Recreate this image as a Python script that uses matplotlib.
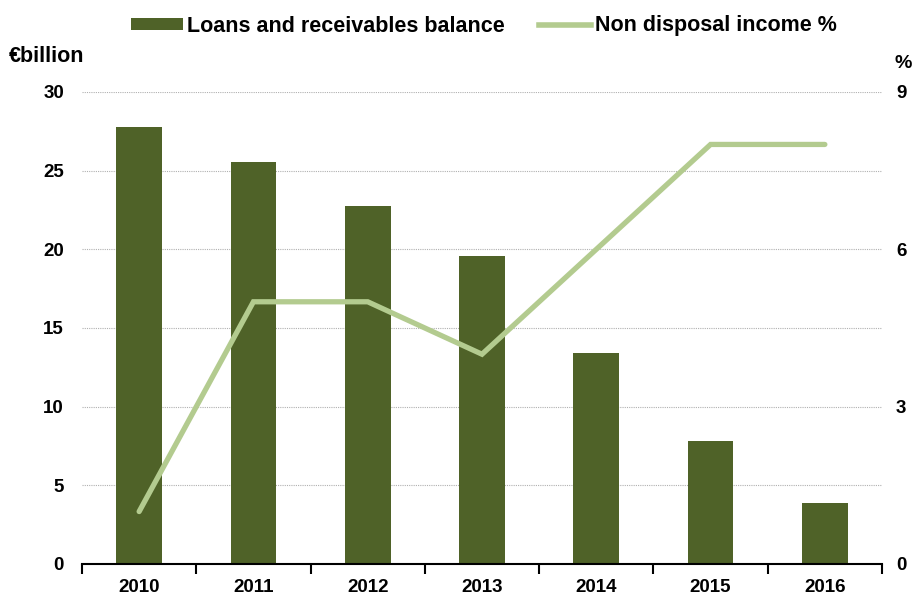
import matplotlib
matplotlib.use("Agg")
import matplotlib.pyplot as plt
import numpy as np
from matplotlib.lines import Line2D
from matplotlib.patches import Patch

years = ["2010", "2011", "2012", "2013", "2014", "2015", "2016"]
loans = [27.8, 25.55, 22.75, 19.6, 13.4, 7.8, 3.9]
income_pct = [1, 5, 5, 4, 6, 8, 8]
left_ticks = [0, 5, 10, 15, 20, 25, 30]
right_ticks = [0, 3, 6, 9]

bar_color = "#4f6228"
line_color = "#b3cb8f"

plt.rcParams['font.family'] = ['Liberation Sans', 'DejaVu Sans']
plt.rcParams['font.weight'] = 'bold'

fig = plt.figure(figsize=(9.13, 5.98), dpi=100)
ax = fig.add_axes([82/913, 34/598, 800/913, 472/598])
x = np.arange(len(years))
ax.bar(x, loans, width=0.4, color=bar_color, zorder=2)
ax.set_xlim(-0.5, len(years) - 0.5)
ax.set_ylim(0, 30)
ax.set_yticks(left_ticks)
ax.set_xticks(x)
ax.set_xticklabels(years, fontsize=13.5, fontweight='bold')
ax.set_xticks(np.arange(-0.5, len(years)), minor=True)
ax.tick_params(axis='x', which='major', length=0, pad=11)
ax.tick_params(axis='x', which='minor', length=7, width=1.5, direction='out', color='black')
ax.tick_params(axis='y', length=0, labelsize=13.5, pad=13)
for lab in ax.get_yticklabels():
    lab.set_fontweight('bold')
ax.grid(axis='y', color='#b0b0b0', linestyle=(0, (1, 1)), linewidth=0.8, zorder=0)
for s in ['top', 'right', 'left']:
    ax.spines[s].set_visible(False)
ax.spines['bottom'].set_linewidth(1.5)
ax.spines['bottom'].set_zorder(3)

ax2 = ax.twinx()
ax2.plot(x, income_pct, color=line_color, linewidth=3.8, solid_capstyle='round', solid_joinstyle='miter', zorder=3)
ax2.set_ylim(0, 9)
ax2.set_yticks(right_ticks)
ax2.tick_params(axis='y', length=0, labelsize=13.5, pad=10)
for lab in ax2.get_yticklabels():
    lab.set_fontweight('bold')
for s in ['top', 'right', 'left', 'bottom']:
    ax2.spines[s].set_visible(False)

fig.text(9/913, 1 - 57/598, "€billion", fontsize=15.5, fontweight='bold', va='center', ha='left')
fig.text(912/913, 1 - 64/598, "%", fontsize=14, fontweight='bold', va='center', ha='right')

handles = [Patch(facecolor=bar_color, label="Loans and receivables balance"),
           Line2D([0], [0], color=line_color, linewidth=4, label="Non disposal income %")]
fig.legend(handles=handles, loc='center', bbox_to_anchor=(484/913, 1 - 26/598), ncol=2,
           frameon=False, handlelength=2.4, handleheight=0.5, columnspacing=1.6,
           handletextpad=0.2, borderpad=0, prop={'weight': 'bold', 'size': 15.5})

fig.savefig("out.png", dpi=100)
